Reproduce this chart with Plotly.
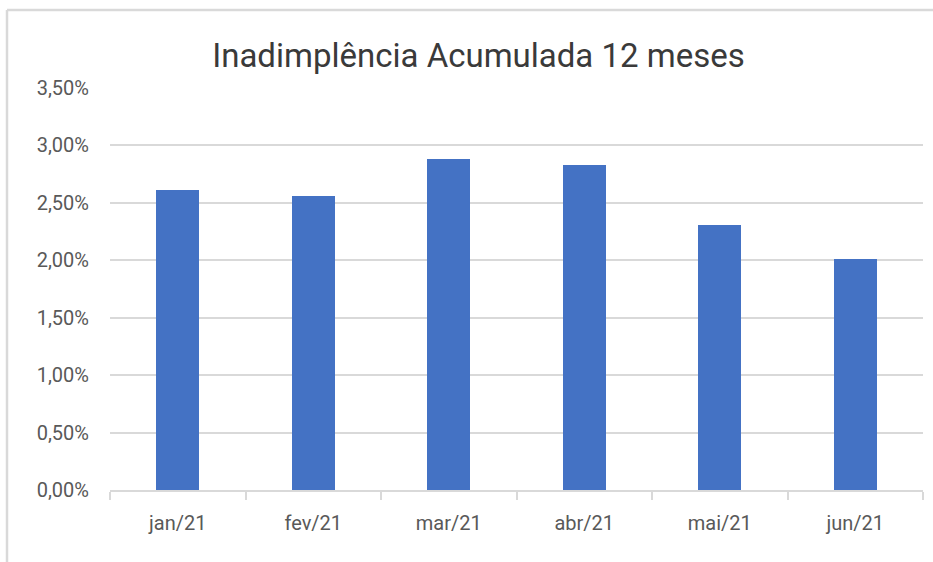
import plotly.graph_objects as go

categories = ["jan/21", "fev/21", "mar/21", "abr/21", "mai/21", "jun/21"]
values = [0.0261, 0.0256, 0.0288, 0.0283, 0.0231, 0.0201]
y_ticks = [0, 0.005, 0.01, 0.015, 0.02, 0.025, 0.03, 0.035]
title_text = "Inadimplência Acumulada 12 meses"

W, H = 933, 562
L, R, T, B = 110, 10, 88, 71.5
pw, ph = W - L - R, H - T - B

def px_x(x):
    return (x - L) / pw

def px_y(y):
    return (H - B - y) / ph

fig = go.Figure(go.Bar(
    x=categories, y=values,
    marker=dict(color="#4472C4", line=dict(width=0)),
    width=0.315,
))

fig.update_layout(
    width=W, height=H,
    margin=dict(l=L, r=R, t=T, b=B),
    paper_bgcolor="white", plot_bgcolor="white",
    separators=",.",
    font=dict(family="Roboto, sans-serif", size=20, color="#595959"),
    title=dict(text=title_text, x=478.5 / W, xanchor="center", xref="container",
               y=1 - 55 / H, yanchor="middle", yref="container",
               font=dict(family="Roboto, sans-serif", size=33, color="#3a3a3a")),
    showlegend=False,
    bargap=0,
)

fig.update_xaxes(
    showline=True, linecolor="#d9d9d9", linewidth=1.5,
    ticks="outside", tickson="boundaries", ticklen=8, tickcolor="#d9d9d9", tickwidth=1.5,
    showgrid=False, ticklabelstandoff=14,
)
fig.update_yaxes(
    range=[0, 0.035], tickvals=y_ticks, tickformat=".2%",
    showgrid=True, gridcolor="#d9d9d9", gridwidth=1.5,
    zeroline=False, showline=False, ticks="", ticklabelstandoff=20,
)

fig.add_shape(type="line", xref="paper", yref="paper",
              x0=px_x(7), x1=px_x(W + 5), y0=px_y(10), y1=px_y(10),
              line=dict(color="#d9d9d9", width=2.5))
fig.add_shape(type="line", xref="paper", yref="paper",
              x0=px_x(7), x1=px_x(7), y0=px_y(10), y1=px_y(H + 5),
              line=dict(color="#d9d9d9", width=2.5))

fig.write_html("out.html", config={"displayModeBar": False},
               post_script="document.body.style.margin='0';document.body.style.overflow='hidden';")
